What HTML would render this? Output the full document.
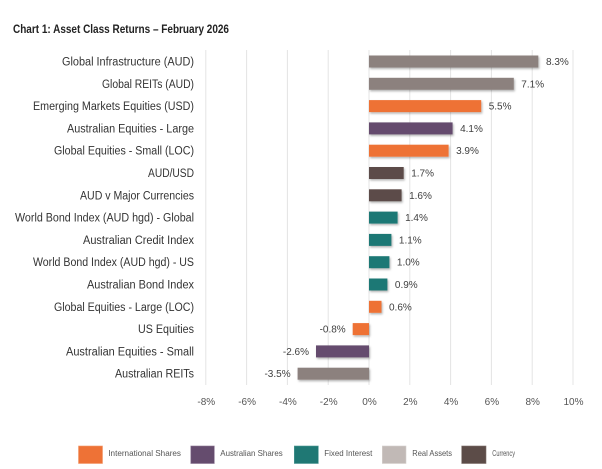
<!DOCTYPE html>
<html><head><meta charset="utf-8">
<style>
html,body{margin:0;padding:0;background:#fff;}
svg{display:block;font-family:"Liberation Sans",sans-serif;}
</style></head>
<body>
<svg width="602" height="469" viewBox="0 0 602 469" xmlns="http://www.w3.org/2000/svg">
<defs>
<filter id="sh" x="-10%" y="-40%" width="130%" height="200%">
<feDropShadow dx="1" dy="1.5" stdDeviation="1" flood-color="#000" flood-opacity="0.3"/>
</filter>
</defs>
<rect width="602" height="469" fill="#fff"/>
<text x="13" y="33" font-size="11.5" font-weight="bold" fill="#222" textLength="216" lengthAdjust="spacingAndGlyphs">Chart 1: Asset Class Returns – February 2026</text>

<g stroke="#e4e4e4" stroke-width="1">
<line x1="205.8" y1="50" x2="205.8" y2="385"/>
<line x1="246.6" y1="50" x2="246.6" y2="385"/>
<line x1="287.4" y1="50" x2="287.4" y2="385"/>
<line x1="328.2" y1="50" x2="328.2" y2="385"/>
<line x1="369" y1="50" x2="369" y2="385"/>
<line x1="409.8" y1="50" x2="409.8" y2="385"/>
<line x1="450.6" y1="50" x2="450.6" y2="385"/>
<line x1="491.4" y1="50" x2="491.4" y2="385"/>
<line x1="532.2" y1="50" x2="532.2" y2="385"/>
<line x1="573" y1="50" x2="573" y2="385"/>
</g>

<g font-size="11.5" fill="#333" text-anchor="end" lengthAdjust="spacingAndGlyphs">
<text x="194" y="65.5" textLength="132" lengthAdjust="spacingAndGlyphs">Global Infrastructure (AUD)</text>
<text x="194" y="87.8" textLength="92" lengthAdjust="spacingAndGlyphs">Global REITs (AUD)</text>
<text x="194" y="110.1" textLength="161" lengthAdjust="spacingAndGlyphs">Emerging Markets Equities (USD)</text>
<text x="194" y="132.4" textLength="127" lengthAdjust="spacingAndGlyphs">Australian Equities - Large</text>
<text x="194" y="154.7" textLength="140" lengthAdjust="spacingAndGlyphs">Global Equities - Small (LOC)</text>
<text x="194" y="177" textLength="46" lengthAdjust="spacingAndGlyphs">AUD/USD</text>
<text x="194" y="199.3" textLength="114" lengthAdjust="spacingAndGlyphs">AUD v Major Currencies</text>
<text x="194" y="221.6" textLength="179" lengthAdjust="spacingAndGlyphs">World Bond Index (AUD hgd) - Global</text>
<text x="194" y="243.9" textLength="111" lengthAdjust="spacingAndGlyphs">Australian Credit Index</text>
<text x="194" y="266.2" textLength="161" lengthAdjust="spacingAndGlyphs">World Bond Index (AUD hgd) - US</text>
<text x="194" y="288.5" textLength="107" lengthAdjust="spacingAndGlyphs">Australian Bond Index</text>
<text x="194" y="310.8" textLength="140" lengthAdjust="spacingAndGlyphs">Global Equities - Large (LOC)</text>
<text x="194" y="333.1" textLength="56" lengthAdjust="spacingAndGlyphs">US Equities</text>
<text x="194" y="355.4" textLength="128" lengthAdjust="spacingAndGlyphs">Australian Equities - Small</text>
<text x="194" y="377.7" textLength="79" lengthAdjust="spacingAndGlyphs">Australian REITs</text>
</g>

<g filter="url(#sh)">
<rect x="369" y="55.5" width="169.3" height="12" fill="#8c817e"/>
<rect x="369" y="77.8" width="144.8" height="12" fill="#8c817e"/>
<rect x="369" y="100.1" width="112.2" height="12" fill="#ee7236"/>
<rect x="369" y="122.4" width="83.6" height="12" fill="#654c6e"/>
<rect x="369" y="144.7" width="79.6" height="12" fill="#ee7236"/>
<rect x="369" y="167" width="34.7" height="12" fill="#5c4c48"/>
<rect x="369" y="189.3" width="32.6" height="12" fill="#5c4c48"/>
<rect x="369" y="211.6" width="28.6" height="12" fill="#1f7874"/>
<rect x="369" y="233.9" width="22.4" height="12" fill="#1f7874"/>
<rect x="369" y="256.2" width="20.4" height="12" fill="#1f7874"/>
<rect x="369" y="278.5" width="18.4" height="12" fill="#1f7874"/>
<rect x="369" y="300.8" width="12.5" height="12" fill="#ee7236"/>
<rect x="352.7" y="323.1" width="16.3" height="12" fill="#ee7236"/>
<rect x="316" y="345.4" width="53" height="12" fill="#654c6e"/>
<rect x="297.6" y="367.7" width="71.4" height="12" fill="#8c817e"/>
</g>

<g font-size="10" fill="#404040">
<text x="546" y="65">8.3%</text>
<text x="521.3" y="87.3">7.1%</text>
<text x="488.7" y="109.6">5.5%</text>
<text x="460.1" y="131.9">4.1%</text>
<text x="456.1" y="154.2">3.9%</text>
<text x="411.2" y="176.5">1.7%</text>
<text x="409.1" y="198.8">1.6%</text>
<text x="405.1" y="221.1">1.4%</text>
<text x="398.9" y="243.4">1.1%</text>
<text x="396.9" y="265.7">1.0%</text>
<text x="394.9" y="288">0.9%</text>
<text x="389" y="310.3">0.6%</text>
<text x="345.7" y="332.6" text-anchor="end">-0.8%</text>
<text x="309" y="354.9" text-anchor="end">-2.6%</text>
<text x="290.6" y="377.2" text-anchor="end">-3.5%</text>
</g>

<g font-size="10" fill="#555" text-anchor="middle">
<text x="206.3" y="405">-8%</text>
<text x="247.1" y="405">-6%</text>
<text x="287.9" y="405">-4%</text>
<text x="328.7" y="405">-2%</text>
<text x="369.5" y="405">0%</text>
<text x="410.3" y="405">2%</text>
<text x="451.1" y="405">4%</text>
<text x="491.9" y="405">6%</text>
<text x="532.7" y="405">8%</text>
<text x="573.5" y="405">10%</text>
</g>

<g>
<rect x="78.5" y="446" width="24" height="17.5" fill="#ee7236" stroke="#f29a6c" stroke-width="0.6"/>
<rect x="190.8" y="446" width="23.5" height="17.5" fill="#654c6e" stroke="#8a7592" stroke-width="0.6"/>
<rect x="294.3" y="446" width="24" height="17.5" fill="#1f7874" stroke="#4e9894" stroke-width="0.6"/>
<rect x="382.3" y="446" width="23.7" height="17.5" fill="#c1b9b6" stroke="#d6d0ce" stroke-width="0.6"/>
<rect x="461.7" y="446" width="24.3" height="17.5" fill="#5c4c48" stroke="#7d6e6a" stroke-width="0.6"/>
</g>
<g font-size="8.5" fill="#555">
<text x="108.3" y="455.8" textLength="72.7" lengthAdjust="spacingAndGlyphs">International Shares</text>
<text x="220.3" y="455.8" textLength="62.4" lengthAdjust="spacingAndGlyphs">Australian Shares</text>
<text x="324.3" y="455.8" textLength="48" lengthAdjust="spacingAndGlyphs">Fixed Interest</text>
<text x="412.3" y="455.8" textLength="39.7" lengthAdjust="spacingAndGlyphs">Real Assets</text>
<text x="492.3" y="455.8" textLength="22.7" lengthAdjust="spacingAndGlyphs">Currency</text>
</g>
</svg>
</body></html>
